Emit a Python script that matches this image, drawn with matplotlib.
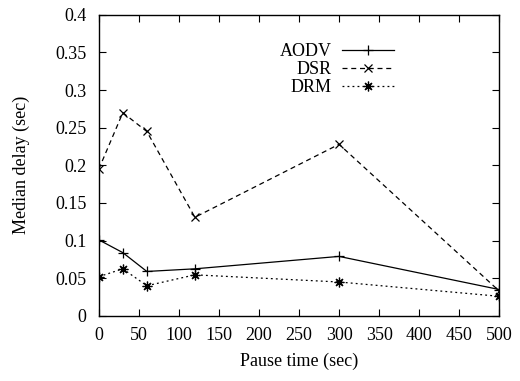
import matplotlib.pyplot as plt

pause = [0, 30, 60, 120, 300, 500]
aodv = [0.101, 0.084, 0.059, 0.0625, 0.079, 0.035]
dsr = [0.195, 0.270, 0.245, 0.131, 0.228, 0.033]
drm = [0.052, 0.0625, 0.040, 0.0545, 0.045, 0.026]

plt.rcParams['font.family'] = ['Liberation Serif', 'DejaVu Serif']

fig = plt.figure(figsize=(5.2, 3.81), dpi=100)
ax = fig.add_axes([0.19, 0.171, 0.77, 0.79])

ax.plot(pause, aodv, color='black', lw=0.9, marker='+', ms=7, mew=0.9, label='AODV')
ax.plot(pause, dsr, color='black', lw=0.9, ls=(0, (4, 3)), marker='x', ms=6, mew=0.9, label='DSR')
ax.plot(pause, drm, color='black', lw=0.9, ls=(0, (1.5, 2.5)), marker=(8, 2, 0), ms=7, mew=0.9, label='DRM')

ax.set_xlim(0, 500)
ax.set_ylim(0, 0.4)
ax.set_xticks(range(0, 501, 50))
ax.set_yticks([0, 0.05, 0.1, 0.15, 0.2, 0.25, 0.3, 0.35, 0.4])
ax.set_yticklabels(['0', '0.05', '0.1', '0.15', '0.2', '0.25', '0.3', '0.35', '0.4'])
ax.tick_params(direction='in', top=True, right=True, length=5, width=0.8, labelsize=13)
ax.tick_params(axis='x', pad=8)
ax.tick_params(axis='y', pad=9)
for s in ax.spines.values():
    s.set_linewidth(1.0)

ax.set_xlabel('Pause time (sec)', fontsize=13, labelpad=6)
ax.set_ylabel('Median delay (sec)', fontsize=13, labelpad=18)

ax.legend(loc='upper left', bbox_to_anchor=(0.43, 0.935), frameon=False, markerfirst=False,
          fontsize=13, handlelength=2.9, labelspacing=0.05, borderpad=0, handletextpad=0.55)
for t in ax.get_legend().get_texts():
    t.set_ha('right')

fig.savefig('out.png', dpi=100)
